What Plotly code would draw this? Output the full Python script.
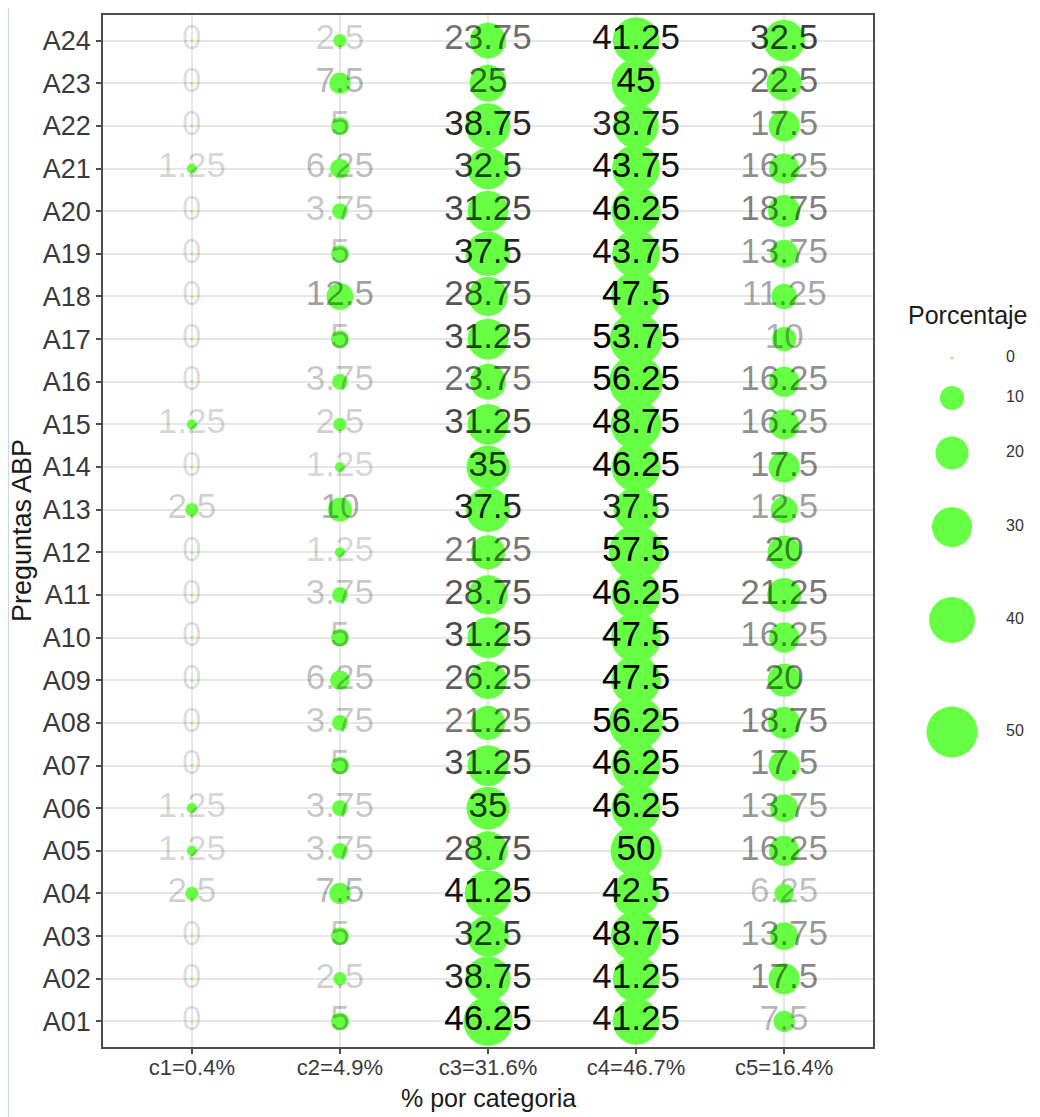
import numpy as np
import plotly.graph_objects as go

# ---------------- data ----------------
questions = [f"A{i:02d}" for i in range(1, 25)]  # A01 .. A24
categories = ["c1=0.4%", "c2=4.9%", "c3=31.6%", "c4=46.7%", "c5=16.4%"]

c1 = [0, 0, 0, 2.5, 1.25, 1.25, 0, 0, 0, 0, 0, 0, 2.5, 0, 1.25, 0, 0, 0, 0, 0, 1.25, 0, 0, 0]
c2 = [5, 2.5, 5, 7.5, 3.75, 3.75, 5, 3.75, 6.25, 5, 3.75, 1.25, 10, 1.25, 2.5, 3.75, 5, 12.5,
      5, 3.75, 6.25, 5, 7.5, 2.5]
c3 = [46.25, 38.75, 32.5, 41.25, 28.75, 35, 31.25, 21.25, 26.25, 31.25, 28.75, 21.25, 37.5,
      35, 31.25, 23.75, 31.25, 28.75, 37.5, 31.25, 32.5, 38.75, 25, 23.75]
c4 = [41.25, 41.25, 48.75, 42.5, 50, 46.25, 46.25, 56.25, 47.5, 47.5, 46.25, 57.5, 37.5,
      46.25, 48.75, 56.25, 53.75, 47.5, 43.75, 46.25, 43.75, 38.75, 45, 41.25]
c5 = [7.5, 17.5, 13.75, 6.25, 16.25, 13.75, 17.5, 18.75, 20, 16.25, 21.25, 20, 12.5, 17.5,
      16.25, 16.25, 10, 11.25, 13.75, 18.75, 16.25, 17.5, 22.5, 32.5]

legend_breaks = [0, 10, 20, 30, 40, 50]

x_title = "% por categoria"
y_title = "Preguntas ABP"
legend_title = "Porcentaje"

# ---------------- styling ----------------
# the page adds an 8px body margin, so the figure is 8px smaller and everything is offset
OFF = 8
W, H = 1040 - OFF, 1117 - OFF
PANEL_L, PANEL_R, PANEL_T, PANEL_B = 103 - OFF, 873 - OFF, 15 - OFF, 1047 - OFF
ML, MR, MT, MB = PANEL_L, 0, PANEL_T, H - PANEL_B
GREEN = "#66FF44"
FONT = "Liberation Sans, Arial, Helvetica, sans-serif"

columns = [c1, c2, c3, c4, c5]
xs, ys, vals = [], [], []
for cat, col in zip(categories, columns):
    for q, v in zip(questions, col):
        xs.append(cat)
        ys.append(q)
        vals.append(v)
vals = np.array(vals, dtype=float)
vmax = vals.max()

D0, DK = 2.5, 52.0


def diam(v):
    return D0 + DK * np.sqrt(np.asarray(v, dtype=float) / vmax)


def text_color(v):
    a = min(1.0, 0.15 + 0.0185 * v)
    return f"rgba(0,0,0,{a:.3f})"


def fmt(v):
    return f"{v:g}"


fig = go.Figure()

fig.add_trace(go.Scatter(
    x=xs, y=ys, mode="markers",
    marker=dict(size=diam(vals), sizemode="diameter", color=GREEN, line=dict(width=0),
                opacity=1),
    hoverinfo="skip", showlegend=False, cliponaxis=False,
))
fig.add_trace(go.Scatter(
    x=xs, y=ys, mode="text",
    text=[fmt(v) for v in vals],
    textposition="middle center",
    textfont=dict(family=FONT, size=35, color=[text_color(v) for v in vals]),
    hoverinfo="skip", showlegend=False, cliponaxis=False,
))

# ---------------- size legend (own invisible axes, pixel units) ----------------
plot_w = W - ML - MR
x_dom1 = (PANEL_R - ML) / plot_w
x2_dom0 = x_dom1 + 0.005
leg_px0 = ML + x2_dom0 * plot_w
leg_key_x = 952 - OFF
leg_lab_x = 1006 - OFF
leg_first_y = 358 - OFF
leg_gaps = [40, 55, 74, 93, 112]
leg_y = list(np.cumsum([leg_first_y] + leg_gaps))

fig.add_trace(go.Scatter(
    x=[leg_key_x] * len(legend_breaks), y=leg_y, xaxis="x2", yaxis="y2",
    mode="markers",
    marker=dict(size=diam(legend_breaks), sizemode="diameter", color=GREEN,
                line=dict(width=0), opacity=1),
    hoverinfo="skip", showlegend=False, cliponaxis=False,
))
fig.add_trace(go.Scatter(
    x=[leg_lab_x] * len(legend_breaks), y=leg_y, xaxis="x2", yaxis="y2",
    mode="text", text=[str(b) for b in legend_breaks], textposition="middle right",
    textfont=dict(family=FONT, size=16, color="#333333"),
    hoverinfo="skip", showlegend=False, cliponaxis=False,
))

fig.update_layout(
    width=W, height=H,
    margin=dict(l=ML, r=MR, t=MT, b=MB, autoexpand=False),
    paper_bgcolor="white", plot_bgcolor="white",
    font=dict(family=FONT, color="#333333"),
    xaxis=dict(
        domain=[0, x_dom1],
        type="category", categoryorder="array", categoryarray=categories,
        range=[-0.6, 4.6],
        showgrid=True, gridcolor="#e6e6e6", gridwidth=2,
        showline=True, mirror=True, linecolor="#4d4d4d", linewidth=1.5,
        ticks="outside", ticklen=5, tickcolor="#4d4d4d", tickwidth=1.5,
        ticklabelstandoff=-5,
        tickfont=dict(family=FONT, size=22, color="#3a3a3a"),
        zeroline=False, fixedrange=True, automargin=False,
    ),
    yaxis=dict(
        type="category", categoryorder="array", categoryarray=questions,
        range=[-0.6, 23.6],
        showgrid=True, gridcolor="#e6e6e6", gridwidth=2,
        showline=True, mirror=True, linecolor="#4d4d4d", linewidth=1.5,
        ticks="outside", ticklen=5, tickcolor="#4d4d4d", tickwidth=1.5,
        tickfont=dict(family=FONT, size=27, color="#3a3a3a"),
        zeroline=False, fixedrange=True, automargin=False,
    ),
    xaxis2=dict(domain=[x2_dom0, 1], anchor="y2", range=[leg_px0, W], visible=False,
                fixedrange=True),
    yaxis2=dict(domain=[0, 1], anchor="x2", range=[PANEL_B, PANEL_T], visible=False,
                fixedrange=True),
    annotations=[
        dict(text=legend_title, x=968 - OFF, y=315 - OFF, xref="x2", yref="y2",
             showarrow=False, xanchor="center", yanchor="middle",
             font=dict(family=FONT, size=25, color="#1a1a1a")),
        dict(text=x_title, x=x_dom1 / 2, y=0, xref="paper", yref="paper",
             yshift=-(1098 - 1047), showarrow=False, xanchor="center", yanchor="middle",
             font=dict(family=FONT, size=25, color="#1a1a1a")),
        dict(text=y_title, x=0, y=0.5, xref="paper", yref="paper", textangle=-90,
             xshift=-(103 - 22), showarrow=False, xanchor="center", yanchor="middle",
             font=dict(family=FONT, size=27, color="#1a1a1a")),
    ],
    shapes=[
        dict(type="line", xref="paper", yref="paper",
             x0=-ML / plot_w, x1=-ML / plot_w, y0=-MB / (H - MT - MB), y1=1 + MT / (H - MT - MB),
             line=dict(color="#c8d8ee", width=2)),
    ],
)

fig.write_html("out.html")
